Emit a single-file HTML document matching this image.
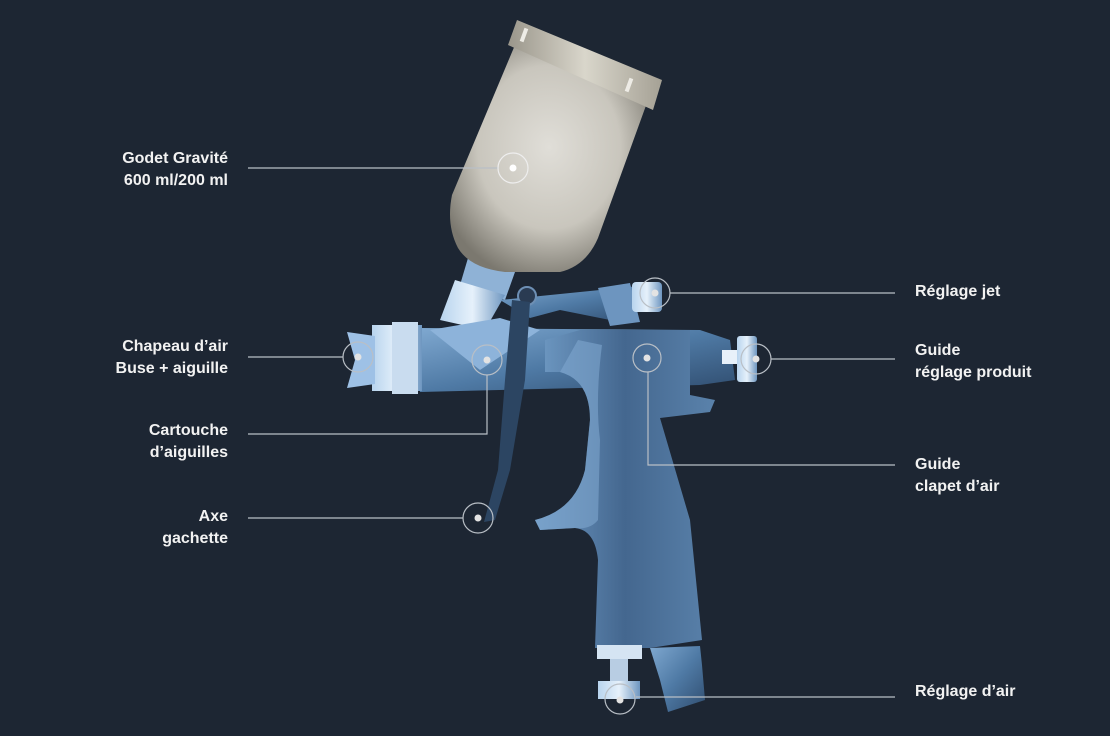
<!DOCTYPE html>
<html><head><meta charset="utf-8"><style>
html,body{margin:0;padding:0;background:#1d2633;}
body{width:1110px;height:736px;position:relative;overflow:hidden;font-family:"Liberation Sans",sans-serif;}
.l{position:absolute;color:#f2f2f2;font-weight:bold;font-size:16px;line-height:22px;}
.r{text-align:right;right:882px;}
.g{left:915px;}
svg{position:absolute;left:0;top:0;}
</style></head><body>
<svg width="1110" height="736" viewBox="0 0 1110 736">
<defs>
<radialGradient id="cup" cx="0.5" cy="0.45" r="0.6">
<stop offset="0" stop-color="#e0ded8"/><stop offset="0.6" stop-color="#c9c6bd"/><stop offset="1" stop-color="#7b786f"/></radialGradient>
<linearGradient id="lid" x1="0" y1="0" x2="1" y2="0">
<stop offset="0" stop-color="#9a968b"/><stop offset="0.5" stop-color="#d9d6cb"/><stop offset="1" stop-color="#a5a195"/></linearGradient>
<linearGradient id="steel" x1="0" y1="0" x2="1" y2="1">
<stop offset="0" stop-color="#7fa8d0"/><stop offset="0.5" stop-color="#4f7aa5"/><stop offset="1" stop-color="#2f4c6e"/></linearGradient>
<linearGradient id="hand" x1="0" y1="0" x2="1" y2="0">
<stop offset="0" stop-color="#6f9ac4"/><stop offset="0.5" stop-color="#44678f"/><stop offset="1" stop-color="#5a82ab"/></linearGradient>
<linearGradient id="bright" x1="0" y1="0" x2="1" y2="0">
<stop offset="0" stop-color="#b8d4ee"/><stop offset="0.5" stop-color="#e6f1fb"/><stop offset="1" stop-color="#6e96c0"/></linearGradient>
</defs>
<!-- neck collar -->
<path d="M468,258 L515,272 L505,300 L460,285 Z" fill="#8fb2d6"/>
<!-- cup -->
<path d="M515,45 L648,100 L598,238 Q586,266 560,272 L505,272 Q470,268 458,248 Q446,225 452,195 Z" fill="url(#cup)"/>
<path d="M517,20 L662,80 L653,110 L508,45 Z" fill="url(#lid)"/>
<rect x="522" y="28" width="4" height="14" fill="#eeece6" transform="rotate(20 524 35)"/>
<rect x="627" y="78" width="4" height="14" fill="#eeece6" transform="rotate(20 629 85)"/>
<!-- neck -->
<path d="M455,280 L505,295 L485,330 L440,320 Z" fill="url(#bright)"/>
<!-- top frame -->
<path d="M500,300 L650,285 L655,300 L620,305 L610,320 L560,310 L530,318 Z" fill="url(#steel)"/>
<circle cx="527" cy="296" r="9" fill="#2a3b52" stroke="#6d8fb4" stroke-width="2"/>
<!-- adjust knob top -->
<path d="M598,288 L630,283 L640,322 L610,326 Z" fill="#6d95bf"/>
<rect x="632" y="282" width="30" height="30" rx="4" fill="url(#bright)"/>
<!-- barrel -->
<path d="M420,328 L700,330 L730,340 L735,380 L700,385 L420,392 Z" fill="url(#steel)"/>
<path d="M430,330 L500,318 L540,330 L480,370 Z" fill="#8db3da"/>
<!-- air cap -->
<rect x="372" y="325" width="50" height="66" fill="url(#bright)"/>
<rect x="392" y="322" width="26" height="72" fill="#c9dcef"/>
<path d="M347,332 L375,336 L375,384 L347,388 L355,360 Z" fill="#9ec1e6"/>
<!-- right rear knob -->
<rect x="722" y="350" width="20" height="14" fill="#e8f1fa"/>
<rect x="737" y="336" width="20" height="46" rx="3" fill="url(#bright)"/>
<!-- handle -->
<path d="M580,330 L690,330 L690,395 L715,400 L710,412 L660,418 L690,520 L702,640 L650,648 L595,648 L598,560 Q595,530 575,528 L540,530 L535,520 Q575,510 585,470 L590,420 Q590,380 560,372 L545,372 L545,340 Z" fill="url(#hand)"/>
<path d="M578,340 L602,345 Q595,400 600,440 L598,520 Q590,530 575,528 L540,530 L535,520 Q575,510 585,470 L590,420 Q590,380 560,372 Z" fill="#7ea7cf" opacity="0.6"/>
<!-- trigger -->
<path d="M512,300 L530,302 L525,380 L510,470 L495,520 L484,522 L498,470 L505,380 Z" fill="#2c4562"/>
<!-- bottom fittings -->
<rect x="597" y="645" width="45" height="14" fill="#d5e4f3"/>
<rect x="610" y="659" width="18" height="22" fill="#b8cde3"/>
<rect x="598" y="681" width="42" height="18" fill="url(#bright)"/>
<path d="M650,648 L700,646 L702,665 L705,700 L668,712 L660,680 Z" fill="url(#steel)"/>
<!-- callouts -->
<g stroke="#b9bfc6" stroke-width="1.2" fill="none">
<line x1="248" y1="168" x2="498" y2="168"/>
<circle cx="513" cy="168" r="15" stroke="#eeeeee"/>
<line x1="670" y1="293" x2="895" y2="293"/>
<circle cx="655" cy="293" r="15"/>
<line x1="248" y1="357" x2="343" y2="357"/>
<circle cx="358" cy="357" r="15"/>
<line x1="771" y1="359" x2="895" y2="359"/>
<circle cx="756" cy="359" r="15"/>
<circle cx="487" cy="360" r="15"/>
<polyline points="487,375 487,434 248,434"/>
<circle cx="647" cy="358" r="14"/>
<polyline points="648,372 648,465 895,465"/>
<circle cx="478" cy="518" r="15"/>
<line x1="248" y1="518" x2="463" y2="518"/>
<circle cx="620" cy="699" r="15"/>
<line x1="636" y1="697" x2="895" y2="697"/>
</g>
<g fill="#e3e3e3">
<circle cx="513" cy="168" r="3.5" fill="#ffffff"/><circle cx="655" cy="293" r="3.5"/><circle cx="358" cy="357" r="3.5"/>
<circle cx="756" cy="359" r="3.5"/><circle cx="487" cy="360" r="3.5"/><circle cx="647" cy="358" r="3.5"/>
<circle cx="478" cy="518" r="3.5"/><circle cx="620" cy="700" r="3.5"/>
</g>
</svg>
<div class="l r" style="top:148px">Godet Gravité<br>600 ml/200 ml</div>
<div class="l r" style="top:336px">Chapeau d’air<br>Buse + aiguille</div>
<div class="l r" style="top:420px">Cartouche<br>d’aiguilles</div>
<div class="l r" style="top:506px">Axe<br>gachette</div>
<div class="l g" style="top:281px">Réglage jet</div>
<div class="l g" style="top:340px">Guide<br>réglage produit</div>
<div class="l g" style="top:454px">Guide<br>clapet d’air</div>
<div class="l g" style="top:681px">Réglage d’air</div>
</body></html>
